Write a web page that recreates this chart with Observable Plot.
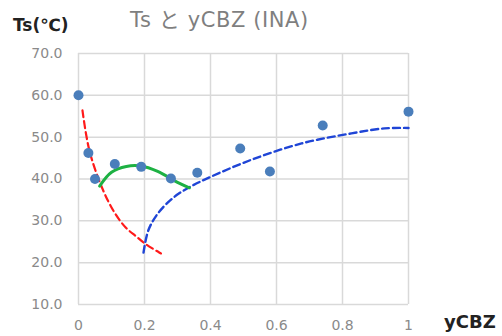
<!DOCTYPE html>
<html><head><meta charset="utf-8">
<script src="https://cdn.jsdelivr.net/npm/d3@7"></script>
<script src="https://cdn.jsdelivr.net/npm/@observablehq/plot@0.6"></script>
<style>
body{margin:0;background:#fff;font-family:"Noto Sans CJK JP","Noto Sans",sans-serif;}
#wrap{position:relative;width:502px;height:336px;}
.lbl{position:absolute;white-space:nowrap;}
</style></head><body>
<div id="wrap">
<div class="lbl" style="left:130px;top:3px;font-size:21px;letter-spacing:0.6px;color:#7f7f7f;font-family:'DejaVu Sans','Noto Sans CJK JP',sans-serif">Ts と yCBZ (INA)</div>
<div class="lbl" style="left:13px;top:15px;font-size:17px;font-weight:bold;color:#222;font-family:'DejaVu Sans','Noto Sans CJK JP',sans-serif">Ts(℃)</div>
<div class="lbl" style="left:444px;top:311px;font-size:18px;font-weight:bold;color:#222;font-family:'DejaVu Sans',sans-serif">yCBZ</div>
</div>
<script>
const ptX = [0, 0.03, 0.05, 0.11, 0.19, 0.28, 0.36, 0.49, 0.58, 0.74, 1.0];
const ptY = [60, 46.2, 40, 43.6, 42.9, 40.1, 41.5, 47.3, 41.8, 52.8, 56.1];
const redX = [0.012, 0.033, 0.073, 0.109, 0.143, 0.176, 0.206, 0.25];
const redY = [56.4, 46.8, 37.6, 32, 28.4, 26.2, 24.3, 22.2];
const blueX = [0.197, 0.212, 0.242, 0.29, 0.34, 0.40, 0.524, 0.676, 0.827, 0.927, 1.0];
const blueY = [22.4, 27.8, 31.9, 35.7, 38.2, 40.5, 44.6, 48.5, 50.9, 52.1, 52.2];
const greenX = [0.064, 0.1, 0.145, 0.19, 0.24, 0.30, 0.336];
const greenY = [38.3, 41.6, 43, 43.1, 41.8, 39.2, 37.9];
const xTicks = [0, 0.2, 0.4, 0.6, 0.8, 1];
const xTickLabels = ["0", "0.2", "0.4", "0.6", "0.8", "1"];
const yTicks = [10, 20, 30, 40, 50, 60, 70];

const pts = ptX.map((x, i) => ({x, y: ptY[i]}));
const red = redX.map((x, i) => ({x, y: redY[i]}));
const blue = blueX.map((x, i) => ({x, y: blueY[i]}));
const green = greenX.map((x, i) => ({x, y: greenY[i]}));

const chart = Plot.plot({
  width: 502, height: 336,
  marginLeft: 78, marginRight: 94, marginTop: 53, marginBottom: 32,
  style: {fontSize: "14px", color: "#808080", fontFamily: "'DejaVu Sans',sans-serif", background: "transparent"},
  x: {domain: [0, 1], label: null},
  y: {domain: [10, 70], label: null},
  marks: [
    Plot.gridX(xTicks, {stroke: "#d9d9d9", strokeOpacity: 1, strokeWidth: 1.5}),
    Plot.gridY(yTicks, {stroke: "#d9d9d9", strokeOpacity: 1, strokeWidth: 1.5}),
    Plot.axisX({ticks: xTicks, tickFormat: (d, i) => xTickLabels[i], tickSize: 0, tickPadding: 16, fill: "#8a8a8a", fontSize: 14, label: null}),
    Plot.axisY({ticks: yTicks, tickFormat: d3.format(".1f"), tickSize: 0, tickPadding: 16, fill: "#8a8a8a", fontSize: 14, label: null}),
    Plot.line(red, {x: "x", y: "y", curve: "catmull-rom", stroke: "#ff1a1a", strokeWidth: 2.2, strokeDasharray: "7,4"}),
    Plot.line(blue, {x: "x", y: "y", curve: "catmull-rom", stroke: "#1f45d6", strokeWidth: 2.4, strokeDasharray: "7,4"}),
    Plot.line(green, {x: "x", y: "y", curve: "catmull-rom", stroke: "#1db143", strokeWidth: 3}),
    Plot.dot(pts, {x: "x", y: "y", r: 5, fill: "#4a7ebb", stroke: "none"})
  ]
});
chart.style.position = "absolute";
chart.style.left = "0";
chart.style.top = "0";
document.getElementById("wrap").prepend(chart);
</script>
</body></html>
